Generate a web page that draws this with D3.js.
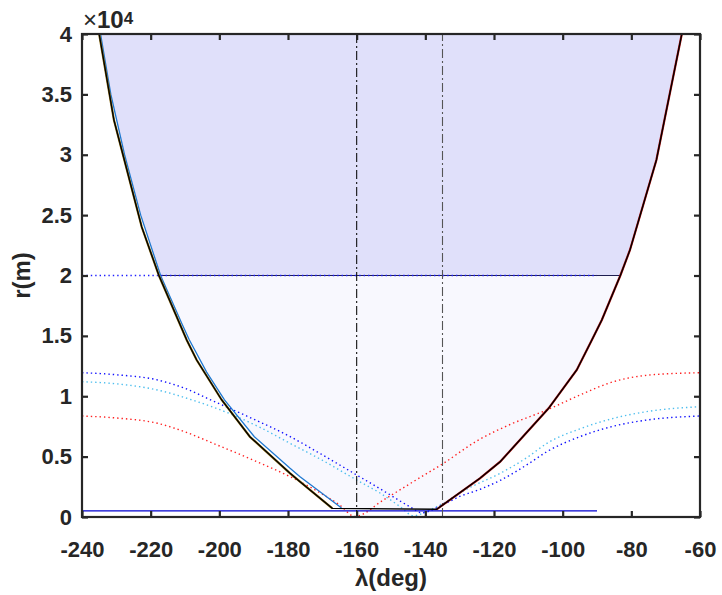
<!DOCTYPE html>
<html>
<head>
<meta charset="utf-8">
<script src="https://cdn.jsdelivr.net/npm/d3@7"></script>
<style>
  html, body { margin: 0; padding: 0; background: #fff; }
  svg text { font-family: "Liberation Sans", Arial, sans-serif; font-weight: bold; fill: #262626; }
</style>
</head>
<body>
<svg id="chart" width="722" height="595"></svg>
<script>
// Axis ticks
const xTicks = [-240, -220, -200, -180, -160, -140, -120, -100, -80, -60];
const yTicks = [0, 5000, 10000, 15000, 20000, 25000, 30000, 35000, 40000];
const yTickLabels = ["0", "0.5", "1", "1.5", "2", "2.5", "3", "3.5", "4"];

// Reachable boundary, black solid (lambda in deg, r in m)
const blackLeft = [[-235.0, 40000], [-230.7, 32878], [-222.6, 24017], [-217.6, 20000], [-209.5, 14658],
  [-206.6, 13002], [-199.3, 9690], [-191.1, 6650], [-179.4, 3619], [-176.5, 2926], [-167.1, 720]];
const blackRight = [[-136.7, 640], [-124.1, 3205], [-118.2, 4580], [-104.1, 9000], [-95.9, 12174],
  [-91.5, 14658], [-88.6, 16314], [-83.2, 20000], [-80.4, 22112], [-72.7, 29565], [-65.3, 40000]];

// Left boundary, blue solid
const blueLeft = [[-234.6, 40000], [-231.6, 35000], [-227.6, 30000], [-222.9, 25000], [-217.1, 20000],
  [-210.9, 16000], [-208.8, 14700], [-203.7, 12000], [-198.5, 9700], [-189.8, 6650], [-179.4, 4030],
  [-176.5, 3340], [-164.4, 745]];

// Relative range curves, dotted
const rangeBlue = [[-240, 11950], [-230, 11780], [-218, 11350], [-210, 10650], [-202, 9630], [-190, 8100],
  [-180, 6750], [-170, 5150], [-160, 3480], [-151, 1960], [-144.5, 850], [-141, 350], [-135, 1000],
  [-130, 1700], [-124, 2300], [-118, 3064], [-110, 4400], [-104.6, 5411], [-95, 6650], [-85, 7536],
  [-75, 8050], [-60, 8364]];
const rangeCyan = [[-240, 11205], [-230, 11030], [-218, 10517], [-208, 9700], [-196, 8447], [-188, 7400],
  [-179.4, 6100], [-170, 4700], [-160, 3064], [-153, 1950], [-147.3, 853], [-143.5, 100], [-139, 550],
  [-135.7, 994], [-128, 2300], [-118.2, 3619], [-110, 5000], [-104.6, 6100], [-95, 7300], [-85.2, 8170],
  [-75, 8750], [-60, 9135]];
const rangeRed = [[-240, 8364], [-230, 8200], [-218, 7760], [-210, 7050], [-201.8, 6100], [-190, 4700],
  [-179.4, 3340], [-170, 1900], [-165, 1000], [-160.5, 50], [-152, 1450], [-143.5, 2926], [-134.7, 4447],
  [-125, 6300], [-115, 7700], [-104.6, 8861], [-95, 10100], [-85.2, 11205], [-75, 11750], [-60, 11950]];

// Reference levels and window
const radiusMax = 20000;
const radiusMin = 500;
const levelSpan = [-240, -90];
const lambdaWindow = [-160, -135];

const svg = d3.select("#chart");
const plotL = 82, plotT = 34, plotR = 700, plotB = 517;

const x = d3.scaleLinear().domain([-240, -60]).range([plotL, plotR]);
const y = d3.scaleLinear().domain([0, 40000]).range([plotB, plotT]);

svg.append("defs").append("clipPath").attr("id", "plotClip")
  .append("rect").attr("x", plotL).attr("y", plotT).attr("width", plotR - plotL).attr("height", plotB - plotT);

const g = svg.append("g").attr("clip-path", "url(#plotClip)");
const line = d3.line().x(d => x(d[0])).y(d => y(d[1]));
const smooth = d3.line().x(d => x(d[0])).y(d => y(d[1])).curve(d3.curveMonotoneX);

// Shaded regions between boundaries
const leftUpper = blueLeft.filter(d => d[1] >= radiusMax);          // 40000 -> 20000
const rightUpper = blackRight.filter(d => d[1] >= radiusMax);       // 20000 -> 40000
const lowerFill = blueLeft.filter(d => d[1] <= radiusMax)
  .concat(blackRight.filter(d => d[1] <= radiusMax));
g.append("path").attr("d", line(lowerFill) + "Z").attr("fill", "#f8f8fe").attr("stroke", "none");
g.append("path").attr("d", line(leftUpper.concat(rightUpper)) + "Z").attr("fill", "#e0e0fa").attr("stroke", "none");

// Upper region lower edge
g.append("path").attr("d", line([leftUpper[leftUpper.length - 1], rightUpper[0]]))
  .attr("stroke", "#1e1e50").attr("stroke-width", 1.2).attr("fill", "none");

// Dotted range curves
[[rangeRed, "#ff2020"], [rangeCyan, "#4dbeee"], [rangeBlue, "#1010ff"]].forEach(([data, c]) => {
  g.append("path").attr("d", smooth(data)).attr("fill", "none")
    .attr("stroke", c).attr("stroke-width", 1.4).attr("stroke-dasharray", "1.4,3");
});

// Radius levels
g.append("path").attr("d", line(levelSpan.map(l => [l, radiusMax])))
  .attr("fill", "none").attr("stroke", "#2020ff").attr("stroke-width", 1.4).attr("stroke-dasharray", "1.4,3");
g.append("path").attr("d", line(levelSpan.map(l => [l, radiusMin])))
  .attr("fill", "none").attr("stroke", "#0000d0").attr("stroke-width", 1.2);

// Window lines (dash-dot)
const dashDot = "9,3,2,3";
g.append("path").attr("d", line([[lambdaWindow[0], 40000], [lambdaWindow[0], 0], [lambdaWindow[1], 0]]))
  .attr("fill", "none").attr("stroke", "#111").attr("stroke-width", 1.1).attr("stroke-dasharray", dashDot);
g.append("path").attr("d", line([[lambdaWindow[1], 0], [lambdaWindow[1], 40000]]))
  .attr("fill", "none").attr("stroke", "#555").attr("stroke-width", 1.1).attr("stroke-dasharray", dashDot);

// Boundary curves
g.append("path").attr("d", line(blueLeft)).attr("fill", "none")
  .attr("stroke", "#1f78d0").attr("stroke-width", 1.3);
g.append("path").attr("d", line(blackRight)).attr("fill", "none")
  .attr("stroke", "#b01010").attr("stroke-width", 2.2);
g.append("path").attr("d", line(blackLeft)).attr("fill", "none")
  .attr("stroke", "#8a6a10").attr("stroke-width", 2.2);
g.append("path").attr("d", line(blackLeft.concat(blackRight))).attr("fill", "none")
  .attr("stroke", "#000").attr("stroke-width", 1.3);

// Axes box
const axisColor = "#262626";
const xb = d3.axisBottom(x).tickValues(xTicks).tickSize(-6).tickPadding(24).tickFormat(d => String(d));
const xt = d3.axisTop(x).tickValues(xTicks).tickSize(-6).tickFormat("");
const yl = d3.axisLeft(y).tickValues(yTicks).tickSize(-6).tickPadding(10)
  .tickFormat((d, i) => yTickLabels[i]);
const yr = d3.axisRight(y).tickValues(yTicks).tickSize(-6).tickFormat("");

function styleAxis(sel) {
  sel.select(".domain").remove();
  sel.selectAll(".tick line").attr("stroke", axisColor).attr("stroke-width", 2.2);
  sel.selectAll(".tick text").attr("font-size", 22).attr("fill", axisColor)
    .attr("font-family", "Liberation Sans, Arial, sans-serif").attr("font-weight", "bold");
}
svg.append("g").attr("transform", `translate(0,${plotB})`).call(xb).call(styleAxis);
svg.append("g").attr("transform", `translate(0,${plotT})`).call(xt).call(styleAxis);
svg.append("g").attr("transform", `translate(${plotL},0)`).call(yl).call(styleAxis);
svg.append("g").attr("transform", `translate(${plotR},0)`).call(yr).call(styleAxis);
svg.append("rect").attr("x", plotL).attr("y", plotT).attr("width", plotR - plotL).attr("height", plotB - plotT)
  .attr("fill", "none").attr("stroke", axisColor).attr("stroke-width", 2.2);

// Exponent
const ex = svg.append("text").attr("x", plotL + 1).attr("y", 28).attr("font-size", 24);
ex.append("tspan").attr("font-weight", "normal").text("×");
ex.append("tspan").text("10");
ex.append("tspan").attr("font-size", 17).attr("dy", -4).text("4");

// Axis titles
svg.append("text").attr("x", (plotL + plotR) / 2).attr("y", 586).attr("text-anchor", "middle")
  .attr("font-size", 24).text("λ(deg)");
svg.append("text").attr("transform", `translate(30,${(plotT + plotB) / 2}) rotate(-90)`)
  .attr("text-anchor", "middle").attr("font-size", 24).text("r(m)");
</script>
</body>
</html>
